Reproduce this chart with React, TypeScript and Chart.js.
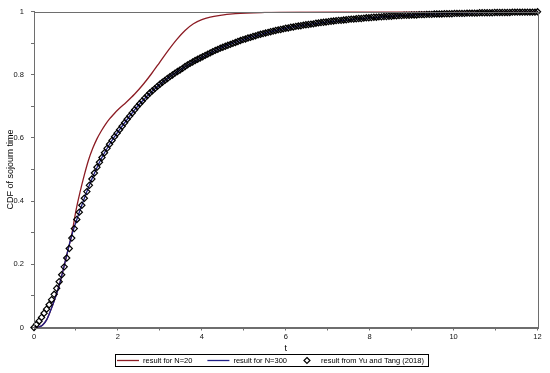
import React, { useEffect, useRef } from "react";
import { Chart, registerables } from "chart.js";

Chart.register(...registerables);

// ---- data ----
const redT = [0, 0.1, 0.2, 0.3, 0.4, 0.5, 0.6, 0.7, 0.8, 0.9, 1.0, 1.1, 1.2, 1.3, 1.4, 1.5, 1.6, 1.7, 1.8, 1.9, 2.0, 2.2, 2.4, 2.6, 2.8, 3.0, 3.2, 3.4, 3.6, 3.8, 4.0, 4.2, 4.4, 4.8, 5.5, 6.5, 8, 10, 12];
const redV = [0, 0.001, 0.007, 0.024, 0.055, 0.092, 0.133, 0.185, 0.24, 0.295, 0.37, 0.43, 0.483, 0.53, 0.567, 0.597, 0.621, 0.642, 0.66, 0.675, 0.689, 0.713, 0.739, 0.769, 0.803, 0.84, 0.877, 0.911, 0.94, 0.961, 0.974, 0.982, 0.987, 0.993, 0.997, 0.999, 1.0, 1.0, 1.0];

const blueT = [0, 0.1, 0.2, 0.3, 0.4, 0.5, 0.6, 0.7, 0.8, 0.9, 1.0, 1.2, 1.4, 1.6, 1.8, 2.0, 2.5, 3, 3.5, 4, 4.5, 5, 5.5, 6, 7, 8, 9, 10, 11, 12];
const blueV = [0, 0.001, 0.007, 0.024, 0.055, 0.092, 0.133, 0.185, 0.24, 0.292, 0.334, 0.409, 0.476, 0.533, 0.58, 0.619, 0.705, 0.77, 0.817, 0.855, 0.887, 0.912, 0.931, 0.947, 0.967, 0.98, 0.989, 0.994, 0.997, 0.998];

// Yu and Tang (2018) samples, t = 0, 0.06, 0.12, ... 12
const refStep = 0.06;
const refV = [
  0.000, 0.010, 0.020, 0.032, 0.045, 0.058, 0.072, 0.088, 0.105, 0.124,
  0.145, 0.167, 0.192, 0.220, 0.250, 0.283, 0.313, 0.342, 0.365, 0.387,
  0.409, 0.430, 0.450, 0.470, 0.489, 0.507, 0.523, 0.538, 0.553, 0.567,
  0.580, 0.592, 0.604, 0.615, 0.626, 0.637, 0.648, 0.659, 0.669, 0.679,
  0.689, 0.699, 0.708, 0.717, 0.726, 0.734, 0.742, 0.749, 0.756, 0.763,
  0.770, 0.776, 0.782, 0.788, 0.794, 0.799, 0.805, 0.810, 0.815, 0.820,
  0.826, 0.831, 0.836, 0.840, 0.845, 0.849, 0.853, 0.857, 0.861, 0.865,
  0.869, 0.873, 0.877, 0.880, 0.884, 0.887, 0.890, 0.893, 0.896, 0.899,
  0.902, 0.905, 0.908, 0.911, 0.913, 0.916, 0.918, 0.921, 0.923, 0.926,
  0.928, 0.930, 0.932, 0.934, 0.936, 0.938, 0.940, 0.942, 0.943, 0.945,
  0.947, 0.948, 0.950, 0.951, 0.953, 0.954, 0.955, 0.957, 0.958, 0.959,
  0.960, 0.961, 0.963, 0.964, 0.965, 0.966, 0.967, 0.968, 0.969, 0.970,
  0.971, 0.972, 0.972, 0.973, 0.974, 0.975, 0.976, 0.976, 0.977, 0.978,
  0.978, 0.979, 0.980, 0.980, 0.981, 0.982, 0.982, 0.983, 0.983, 0.984,
  0.984, 0.985, 0.985, 0.986, 0.986, 0.987, 0.987, 0.988, 0.988, 0.988,
  0.989, 0.989, 0.989, 0.990, 0.990, 0.990, 0.991, 0.991, 0.991, 0.992,
  0.992, 0.992, 0.992, 0.993, 0.993, 0.993, 0.993, 0.994, 0.994, 0.994,
  0.994, 0.994, 0.995, 0.995, 0.995, 0.995, 0.995, 0.996, 0.996, 0.996,
  0.996, 0.996, 0.996, 0.997, 0.997, 0.997, 0.997, 0.997, 0.997, 0.997,
  0.998, 0.998, 0.998, 0.998, 0.998, 0.998, 0.998, 0.998, 0.998, 0.998,
  0.999,
];

const seriesLabels = ["result for N=20", "result for N=300", "result from Yu and Tang (2018)"];
const xTitle = "t";
const yTitle = "CDF of sojourn time";

const RED = "#8c1c24";
const BLUE = "#1f1f86";
const FRAME = "#6e6e6e";
const FONT = '"Liberation Sans", Arial, sans-serif';

const framePlugin = {
  id: "frameBox",
  afterDraw(chart: any) {
    const { ctx, chartArea: a } = chart;
    ctx.save();
    ctx.strokeStyle = FRAME;
    ctx.lineWidth = 1;
    ctx.strokeRect(Math.round(a.left) + 0.5, Math.round(a.top) + 0.5, Math.round(a.right - a.left), Math.round(a.bottom - a.top));
    ctx.restore();
  },
};

const legendPlugin = {
  id: "boxLegend",
  afterDraw(chart: any) {
    const ctx = chart.ctx;
    ctx.save();
    ctx.font = `7.5px ${FONT}`;
    const tw = seriesLabels.map((s) => ctx.measureText(s).width);
    const total = 107 + tw[0] + tw[1] + tw[2];
    const left = Math.round((chart.width - total) / 2 - 3.5);
    const top = 354.5;
    const h = 12;
    const cy = top + h / 2;
    ctx.strokeStyle = "#000";
    ctx.lineWidth = 1;
    ctx.strokeRect(left + 0.5, top, Math.round(total), h);
    ctx.textBaseline = "middle";
    ctx.fillStyle = "#000";
    let x = left + 2;
    ctx.strokeStyle = RED;
    ctx.lineWidth = 1.3;
    ctx.beginPath(); ctx.moveTo(x, cy); ctx.lineTo(x + 22, cy); ctx.stroke();
    x += 26;
    ctx.fillText(seriesLabels[0], x, cy);
    x += tw[0] + 15;
    ctx.strokeStyle = BLUE;
    ctx.beginPath(); ctx.moveTo(x, cy); ctx.lineTo(x + 22, cy); ctx.stroke();
    x += 26;
    ctx.fillText(seriesLabels[1], x, cy);
    x += tw[1] + 17;
    ctx.strokeStyle = "#000";
    ctx.lineWidth = 1.2;
    const dx = x + 3, r = 3;
    ctx.beginPath();
    ctx.moveTo(dx, cy - r); ctx.lineTo(dx + r, cy); ctx.lineTo(dx, cy + r); ctx.lineTo(dx - r, cy); ctx.closePath();
    ctx.stroke();
    x += 17;
    ctx.fillText(seriesLabels[2], x, cy);
    ctx.restore();
  },
};

export default function App() {
  const ref = useRef<HTMLCanvasElement>(null);
  useEffect(() => {
    document.body.style.margin = "0";
    const canvas = ref.current!;
    const chart = new Chart(canvas, {
      type: "line",
      data: {
        datasets: [
          {
            label: seriesLabels[0],
            data: redT.map((t, i) => ({ x: t, y: redV[i] })),
            borderColor: RED,
            borderWidth: 1.3,
            pointRadius: 0,
            cubicInterpolationMode: "monotone",
            order: 3,
          },
          {
            label: seriesLabels[1],
            data: blueT.map((t, i) => ({ x: t, y: blueV[i] })),
            borderColor: BLUE,
            borderWidth: 1.3,
            pointRadius: 0,
            cubicInterpolationMode: "monotone",
            order: 2,
          },
          {
            label: seriesLabels[2],
            data: refV.map((v, i) => ({ x: i * refStep, y: v })),
            showLine: false,
            pointStyle: "rectRot",
            pointRadius: 3.1,
            pointBorderWidth: 1.2,
            pointBorderColor: "#000",
            pointBackgroundColor: "rgba(255,255,255,0)",
            borderColor: "#000",
            backgroundColor: "rgba(255,255,255,0)",
            clip: false as any,
            order: 1,
          },
        ],
      },
      options: {
        animation: false,
        responsive: false,
        maintainAspectRatio: false,
        layout: { padding: { left: 0, right: 12.5, top: 8.5, bottom: 19.5 } },
        plugins: {
          legend: { display: false },
          tooltip: { enabled: false },
        },
        scales: {
          x: {
            type: "linear",
            min: 0,
            max: 12,
            afterFit: (s: any) => { s.height = 26; },
            ticks: {
              stepSize: 1,
              autoSkip: false,
              maxRotation: 0,
              padding: 2,
              color: "#111",
              font: { family: FONT, size: 7.5 },
              callback: (v: any) => (Math.round(v) % 2 === 0 ? String(Math.round(v)) : ""),
            },
            grid: { drawOnChartArea: false, drawTicks: true, tickLength: 3, color: FRAME },
            border: { display: true, color: FRAME },
            title: { display: true, text: xTitle, color: "#000", font: { family: FONT, size: 9 }, padding: { top: 0, bottom: 0 } },
          },
          y: {
            type: "linear",
            min: 0,
            max: 1,
            afterFit: (s: any) => { s.width = 34; },
            ticks: {
              stepSize: 0.1,
              autoSkip: false,
              padding: 7,
              color: "#111",
              font: { family: FONT, size: 7.5 },
              callback: (v: any) => {
                const k = Math.round(v * 10);
                if (k % 2 !== 0) return "";
                if (k === 0) return "0";
                if (k === 10) return "1";
                return (k / 10).toFixed(1);
              },
            },
            grid: { drawOnChartArea: false, drawTicks: true, tickLength: 3, color: FRAME },
            border: { display: true, color: FRAME },
            title: { display: true, text: yTitle, color: "#000", font: { family: FONT, size: 9 }, padding: { top: 5, bottom: 0 } },
          },
        },
      },
      plugins: [framePlugin, legendPlugin],
    });
    return () => chart.destroy();
  }, []);
  return (
    <div style={{ width: 550, height: 373, background: "#fff" }}>
      <canvas ref={ref} width={550} height={373} style={{ display: "block" }} />
    </div>
  );
}
